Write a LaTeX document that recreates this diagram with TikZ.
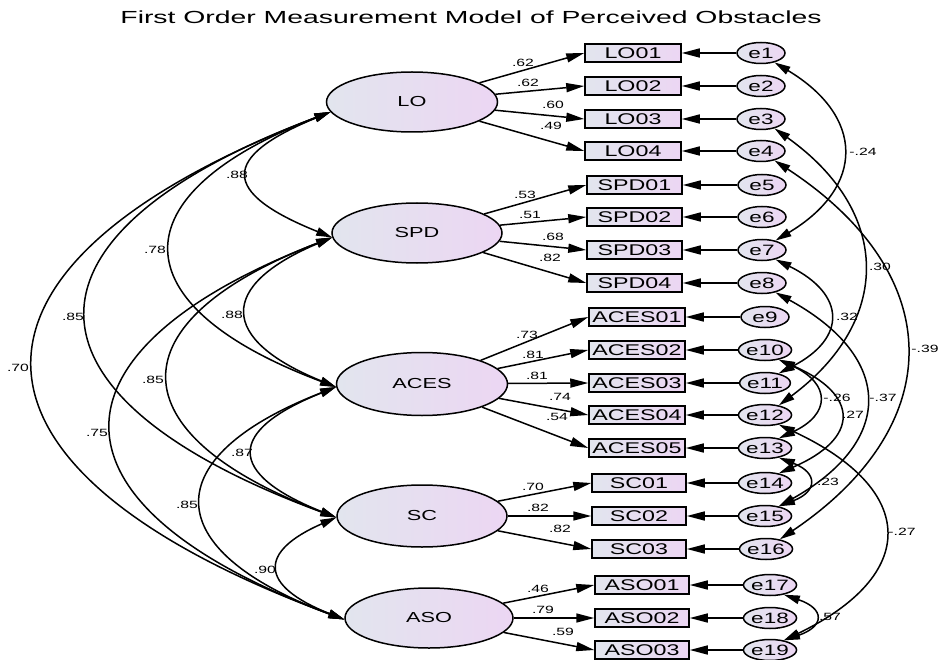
\documentclass[tikz,border=0pt]{standalone}
\usepackage{fontspec}
\setmainfont{Liberation Sans}[FakeStretch=1.5]
\newfontfamily\titlefont{Liberation Sans}[FakeStretch=1.62]
\usetikzlibrary{arrows.meta,shapes.geometric}
\definecolor{lft}{RGB}{226,229,238}
\definecolor{rgt}{RGB}{236,214,243}
\begin{document}
\begin{tikzpicture}[x=1pt,y=-1pt,
 lat/.style={ellipse,draw,line width=1.5pt,minimum width=170pt,minimum height=60pt,inner sep=0pt,left color=lft,right color=rgt,font=\fontsize{14.5}{16}\selectfont},
 obs/.style={rectangle,draw,line width=1.5pt,minimum width=95pt,minimum height=18pt,inner sep=0pt,left color=lft,right color=rgt,font=\fontsize{15.5}{16}\selectfont},
 err/.style={ellipse,draw,line width=1.5pt,minimum width=48pt,minimum height=21pt,inner sep=0pt,left color=lft,right color=rgt,font=\fontsize{15}{16}\selectfont},
 lab/.style={font=\fontsize{10.5}{12}\selectfont,inner sep=0pt},
 ld/.style={line width=1.5pt,-{Triangle[length=18pt,width=9pt]}},
 cov/.style={line width=1.5pt,{Triangle[length=16pt,width=8.5pt]}-{Triangle[length=16pt,width=8.5pt]}},
]
\useasboundingbox (0,0) rectangle (941,660);
\node[font=\titlefont\fontsize{17.5}{20}\selectfont] (title) at (471,17) {First Order Measurement Model of Perceived Obstacles};

% latent factors
\node[lat,minimum width=171pt] (LO) at (412,102) {LO};
\node[lat] (SPD) at (417,233) {SPD};
\node[lat,minimum width=171pt,minimum height=63pt] (ACES) at (422,384) {ACES};
\node[lat,minimum height=62pt] (SC) at (422,516) {SC};
\node[lat,minimum width=168pt] (ASO) at (429,618) {ASO};

% indicators
\node[obs,minimum width=96pt] (LO01) at (633,53) {LO01};
\node[obs,minimum width=96pt] (LO02) at (633,86) {LO02};
\node[obs,minimum width=96pt] (LO03) at (633,119) {LO03};
\node[obs,minimum width=96pt] (LO04) at (633,151) {LO04};
\node[obs] (SPD01) at (634.5,185) {SPD01};
\node[obs] (SPD02) at (634.5,217) {SPD02};
\node[obs] (SPD03) at (634.5,250) {SPD03};
\node[obs] (SPD04) at (634.5,283) {SPD04};
\node[obs,minimum width=96pt] (ACES01) at (637,317) {ACES01};
\node[obs,minimum width=96pt] (ACES02) at (637,350) {ACES02};
\node[obs,minimum width=96pt] (ACES03) at (637,383) {ACES03};
\node[obs,minimum width=96pt] (ACES04) at (637,415) {ACES04};
\node[obs,minimum width=96pt] (ACES05) at (637,448) {ACES05};
\node[obs,minimum width=94pt] (SC01) at (639,483) {SC01};
\node[obs,minimum width=94pt] (SC02) at (639,516) {SC02};
\node[obs,minimum width=94pt] (SC03) at (639,549) {SC03};
\node[obs,minimum width=94pt] (ASO01) at (642,585) {ASO01};
\node[obs,minimum width=94pt] (ASO02) at (642,618) {ASO02};
\node[obs,minimum width=94pt] (ASO03) at (642,650) {ASO03};

% errors
\node[err] (e1) at (761,53) {e1};
\node[err] (e2) at (761,86) {e2};
\node[err] (e3) at (761,119) {e3};
\node[err] (e4) at (761,151) {e4};
\node[err] (e5) at (762,185) {e5};
\node[err] (e6) at (762,217) {e6};
\node[err] (e7) at (762,250) {e7};
\node[err] (e8) at (762,283) {e8};
\node[err] (e9) at (765,317) {e9};
\node[err,minimum width=50pt] (e10) at (765,350) {e10};
\node[err,minimum width=50pt] (e11) at (765,383) {e11};
\node[err,minimum width=50pt] (e12) at (765,415) {e12};
\node[err,minimum width=50pt] (e13) at (765,448) {e13};
\node[err,minimum width=50pt] (e14) at (765,483) {e14};
\node[err,minimum width=50pt] (e15) at (765,516) {e15};
\node[err,minimum width=50pt] (e16) at (766,549) {e16};
\node[err,minimum width=50pt] (e17) at (770,585) {e17};
\node[err,minimum width=50pt] (e18) at (770,618) {e18};
\node[err,minimum width=50pt] (e19) at (770,650) {e19};

% loadings
\foreach \f/\i in {LO/LO01,LO/LO02,LO/LO03,LO/LO04,SPD/SPD01,SPD/SPD02,SPD/SPD03,SPD/SPD04,ACES/ACES01,ACES/ACES02,ACES/ACES03,ACES/ACES04,ACES/ACES05,SC/SC01,SC/SC02,SC/SC03,ASO/ASO01,ASO/ASO02,ASO/ASO03}
  \draw[ld] (\f) -- (\i.west);
% error paths
\foreach \e/\i in {e1/LO01,e2/LO02,e3/LO03,e4/LO04,e5/SPD01,e6/SPD02,e7/SPD03,e8/SPD04,e9/ACES01,e10/ACES02,e11/ACES03,e12/ACES04,e13/ACES05,e14/SC01,e15/SC02,e16/SC03,e17/ASO01,e18/ASO02,e19/ASO03}
  \draw[ld] (\e) -- (\i);

% loading labels
\node[lab] (l1) at (523,63) {.62};
\node[lab] (l2) at (528,83) {.62};
\node[lab] (l3) at (553,105) {.60};
\node[lab] (l4) at (551,126) {.49};
\node[lab] (l5) at (525,195) {.53};
\node[lab] (l6) at (530,215) {.51};
\node[lab] (l7) at (553,237) {.68};
\node[lab] (l8) at (550,258) {.82};
\node[lab] (l9) at (527,335) {.73};
\node[lab] (l10) at (533,355) {.81};
\node[lab] (l11) at (537,376) {.81};
\node[lab] (l12) at (560,397) {.74};
\node[lab] (l13) at (557,417) {.54};
\node[lab] (l14) at (533,487) {.70};
\node[lab] (l15) at (538,508) {.82};
\node[lab] (l16) at (560,529) {.82};
\node[lab] (l17) at (538,589) {.46};
\node[lab] (l18) at (543,610) {.79};
\node[lab] (l19) at (563,632) {.59};

% factor covariances
\draw[cov] (LO.187) .. controls +(-110,45) and +(-112,-45) .. (SPD.183);
\draw[cov] (LO.187) .. controls +(-213,82) and +(-219,-82) .. (ACES.182);
\draw[cov] (LO.187) .. controls +(-325,122) and +(-331,-122) .. (SC.181);
\draw[cov] (LO.187) .. controls +(-397,152) and +(-411,-152) .. (ASO.181);
\draw[cov] (SPD.183) .. controls +(-114,48) and +(-118,-48) .. (ACES.182);
\draw[cov] (SPD.183) .. controls +(-218,84) and +(-222,-84) .. (SC.181);
\draw[cov] (SPD.183) .. controls +(-295,114) and +(-307,-114) .. (ASO.181);
\draw[cov] (ACES.182) .. controls +(-110,44) and +(-110,-44) .. (SC.181);
\draw[cov] (ACES.182) .. controls +(-180,70) and +(-188,-70) .. (ASO.181);
\draw[cov] (SC.181) .. controls +(-78,34) and +(-86,-34) .. (ASO.181);
\node[lab] (c1) at (237,175) {.88};
\node[lab] (c2) at (155,250) {.78};
\node[lab] (c3) at (73,317) {.85};
\node[lab] (c4) at (18,368) {.70};
\node[lab] (c5) at (232,315) {.88};
\node[lab] (c6) at (153,380) {.85};
\node[lab] (c7) at (97,433) {.75};
\node[lab] (c8) at (242,453) {.87};
\node[lab] (c9) at (187,505) {.85};
\node[lab] (c10) at (265,570) {.90};

% error covariances
\draw[cov] (e1.-35) .. controls +(90,54) and +(90,-54) .. (e7.35);
\draw[cov] (e3.-35) .. controls +(118,84) and +(113,-84) .. (e12.35);
\draw[cov] (e4.-35) .. controls +(174,114) and +(169,-114) .. (e16.35);
\draw[cov] (e7.-35) .. controls +(71,35) and +(68,-35) .. (e11.35);
\draw[cov] (e8.-35) .. controls +(119,65) and +(116,-65) .. (e15.35);
\draw[cov] (e10.-35) .. controls +(52,24) and +(52,-24) .. (e13.35);
\draw[cov] (e10.-35) .. controls +(81,35) and +(81,-35) .. (e14.35);
\draw[cov] (e13.-35) .. controls +(39,15) and +(39,-15) .. (e15.35);
\draw[cov] (e12.-35) .. controls +(140,65) and +(135,-65) .. (e19.35);
\draw[cov] (e17.-35) .. controls +(41,14) and +(41,-14) .. (e19.35);
\node[lab] (r1) at (863,152) {-.24};
\node[lab] (r2) at (880,267) {.30};
\node[lab] (r3) at (925,349) {-.39};
\node[lab] (r4) at (847,317) {.32};
\node[lab] (r5) at (883,398) {-.37};
\node[lab] (r6) at (837,398) {-.26};
\node[lab] (r7) at (853,415) {.27};
\node[lab] (r8) at (828,482) {.23};
\node[lab] (r9) at (902,532) {-.27};
\node[lab] (r10) at (830,617) {.57};
\end{tikzpicture}
\end{document}
